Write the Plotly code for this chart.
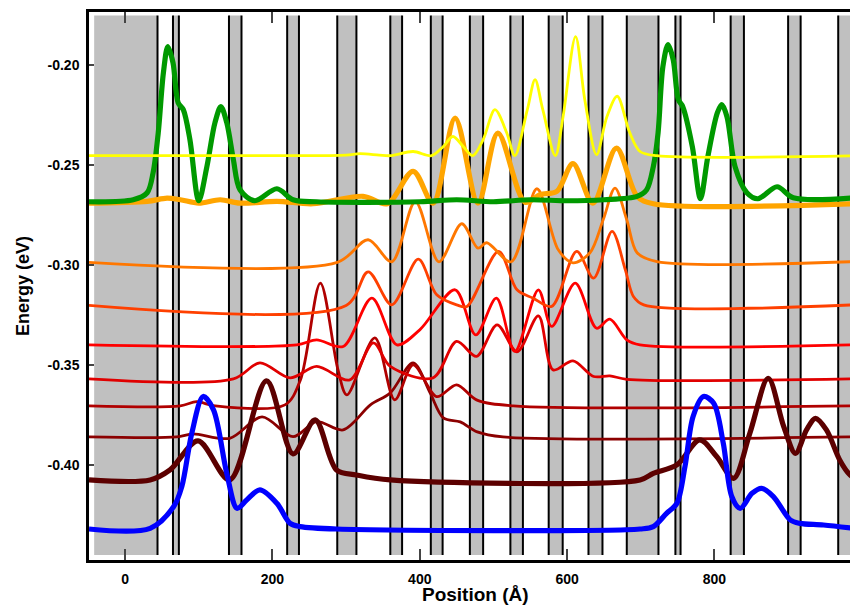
import plotly.graph_objects as go

# ---- structure (Å): barrier regions (gray) bounded by interface lines ----
barrier_start = [-42, 65, 141, 220, 288, 360, 415, 468, 523, 575, 629, 681, 747, 822, 900, 968]
barrier_end   = [44, 73, 158, 236, 314, 376, 431, 486, 540, 594, 648, 724, 754, 840, 917, 1000]
band_top, band_bottom = -0.1755, -0.445

# ---- wavefunction curves (position Å, energy eV) ----
green_x = [-49, 11, 30, 38, 45, 52, 58, 65, 72, 79, 88, 100, 111, 122, 130, 138, 147, 156, 176, 206, 228, 260,
           400, 450, 500, 550, 600, 650, 695, 708, 717, 723.5, 730, 737, 744, 751, 757, 770, 781, 791, 804, 810,
           817, 828, 844, 859, 885, 907, 990]
green_y = [-0.2685, -0.2675, -0.264, -0.254, -0.234, -0.204, -0.191, -0.199, -0.219, -0.2225, -0.2375, -0.268,
           -0.251, -0.229, -0.221, -0.229, -0.2475, -0.2625, -0.268, -0.262, -0.2675, -0.2685,
           -0.2685, -0.2675, -0.2685, -0.2675, -0.268, -0.2675, -0.2658, -0.2625, -0.251, -0.234, -0.201, -0.190,
           -0.1975, -0.2175, -0.221, -0.241, -0.267, -0.246, -0.224, -0.22, -0.226, -0.251, -0.264, -0.267,
           -0.261, -0.2665, -0.2665]

yellow_x = [-49, 210, 300, 319, 345, 360, 391, 416, 432, 445, 459, 472, 486, 502, 518, 529, 546, 556.5, 567,
            584, 594.5, 611.5, 624, 640, 654, 668, 685, 699, 722, 990]
yellow_y = [-0.2455, -0.2455, -0.2452, -0.2445, -0.2452, -0.2455, -0.2434, -0.2455, -0.2409, -0.2359, -0.2409,
            -0.2455, -0.2375, -0.2225, -0.234, -0.2455, -0.2225, -0.2075, -0.2225, -0.2455, -0.226, -0.186,
            -0.2175, -0.245, -0.226, -0.2158, -0.234, -0.2434, -0.2455, -0.2455]

orange_x = [-49, 30, 57, 75, 100, 129, 156, 206, 255, 323, 356, 391, 418, 448, 479, 506, 543, 563, 586, 608,
            635, 667, 695, 717, 990]
orange_y = [-0.2692, -0.2683, -0.2667, -0.2675, -0.2692, -0.2675, -0.2692, -0.2683, -0.2695, -0.2658, -0.2695,
            -0.2533, -0.2692, -0.2267, -0.2692, -0.2342, -0.2688, -0.265, -0.2633, -0.2495, -0.2692, -0.2417,
            -0.2658, -0.2695, -0.2695]

dkorange_x = [-49, 288, 330, 362, 394, 426, 457, 479, 491, 524, 559, 588, 608, 631, 649, 665, 681, 695, 722, 990]
dkorange_y = [-0.2988, -0.2988, -0.2875, -0.2985, -0.2684, -0.2985, -0.2795, -0.2917, -0.289, -0.2985, -0.262,
              -0.2925, -0.299, -0.294, -0.2775, -0.2617, -0.2775, -0.294, -0.2984, -0.2984]

orred_x = [-49, 300, 330, 362, 398, 423, 450, 464, 507, 532, 554, 579, 613, 636, 661, 679, 690, 704, 990]
orred_y = [-0.3203, -0.3203, -0.3035, -0.32, -0.2972, -0.315, -0.32, -0.3208, -0.2933, -0.3125, -0.3167,
           -0.3208, -0.2933, -0.3067, -0.2833, -0.3025, -0.3158, -0.32, -0.32]

red1_x = [-49, 233, 260, 296, 335, 369, 400, 448, 476, 504, 529, 561, 579, 611, 640, 658, 681, 699, 990]
red1_y = [-0.34, -0.34, -0.3375, -0.3408, -0.3167, -0.34, -0.3325, -0.3125, -0.335, -0.3167, -0.3433, -0.3125,
          -0.3308, -0.3092, -0.3317, -0.3272, -0.3375, -0.34, -0.34]

red2_x = [-49, 147, 183, 224, 260, 305, 337, 360, 418, 450, 477, 505, 532, 561, 581, 608, 636, 658, 681, 990]
red2_y = [-0.357, -0.357, -0.349, -0.3565, -0.3508, -0.3575, -0.339, -0.3508, -0.3565, -0.3383, -0.3458, -0.33,
          -0.3435, -0.3255, -0.3525, -0.348, -0.3558, -0.3555, -0.3572, -0.357]

red3_x = [-49, 75, 97, 122, 217, 238, 265, 289, 301, 339, 366, 391, 423, 450, 477, 527, 990]
red3_y = [-0.3705, -0.3705, -0.3684, -0.3705, -0.37, -0.3575, -0.3092, -0.3525, -0.365, -0.3365, -0.3675, -0.35,
          -0.3659, -0.36, -0.3675, -0.3705, -0.3705]

red4_x = [-49, 70, 92, 142, 186, 228, 260, 296, 333, 360, 391, 414, 432, 455, 478, 513, 990]
red4_y = [-0.386, -0.386, -0.3845, -0.3867, -0.376, -0.3859, -0.3784, -0.3825, -0.37, -0.364, -0.349, -0.364,
          -0.3765, -0.3785, -0.3835, -0.386, -0.386]

red5_x = [-49, 34, 61, 99, 142, 192, 228, 258, 287, 314, 360, 699, 717, 749, 780, 803, 826, 848, 873, 894,
          910, 925, 937, 952, 970, 984, 995]
red5_y = [-0.4075, -0.4075, -0.4025, -0.388, -0.4075, -0.358, -0.3945, -0.3775, -0.4025, -0.405, -0.4075,
          -0.4075, -0.4042, -0.40, -0.3875, -0.3958, -0.4067, -0.3842, -0.3567, -0.3808, -0.3942, -0.3825,
          -0.3767, -0.3825, -0.3975, -0.405, -0.4075]

blue_x = [-49, 34, 66, 77, 90.5, 106, 120, 138, 152, 165, 183, 206, 224, 237.5, 287, 699, 717, 735, 749, 760,
          771, 785, 799, 812, 823.5, 835, 851, 864, 880, 903, 916, 948, 995]
blue_y = [-0.432, -0.4317, -0.4208, -0.4108, -0.3842, -0.3658, -0.3725, -0.4042, -0.4217, -0.4175, -0.4125,
          -0.4192, -0.4292, -0.4308, -0.432, -0.432, -0.4308, -0.4242, -0.4192, -0.4008, -0.3758, -0.3658,
          -0.3692, -0.3892, -0.4158, -0.4217, -0.4142, -0.4117, -0.4158, -0.4275, -0.4292, -0.43, -0.432]

x_ticks = [0, 200, 400, 600, 800]
y_ticks = [-0.40, -0.35, -0.30, -0.25, -0.20]
y_tick_labels = ["-0.40", "-0.35", "-0.30", "-0.25", "-0.20"]

curves = [
    (red4_x, red4_y, "#8B0000", 2.8),
    (red3_x, red3_y, "#B00000", 2.8),
    (red2_x, red2_y, "#E00000", 2.8),
    (red1_x, red1_y, "#FF0000", 2.8),
    (orred_x, orred_y, "#FF4000", 2.8),
    (dkorange_x, dkorange_y, "#FF7700", 2.8),
    (red5_x, red5_y, "#5C0000", 5.2),
    (blue_x, blue_y, "#0000FF", 5.2),
    (orange_x, orange_y, "#FFA500", 5.2),
    (green_x, green_y, "#009900", 5.2),
    (yellow_x, yellow_y, "#FFFF00", 2.8),
]

fig = go.Figure()
for xs, ys, col, w in curves:
    fig.add_trace(go.Scatter(x=xs, y=ys, mode="lines",
                             line=dict(color=col, width=w, shape="spline", smoothing=0.9),
                             showlegend=False, hoverinfo="skip"))

shapes = []
for s, e in zip(barrier_start, barrier_end):
    shapes.append(dict(type="rect", xref="x", yref="y", x0=s, x1=e, y0=band_bottom, y1=band_top,
                       fillcolor="#C0C0C0", line=dict(width=0), layer="below"))
edges = sorted(set(barrier_start[1:] + barrier_end[:-1]))
for b in edges:
    shapes.append(dict(type="line", xref="x", yref="y", x0=b, x1=b, y0=band_bottom, y1=band_top,
                       line=dict(color="black", width=2), layer="below"))

font_fam = "Liberation Sans, Arial, sans-serif"
fig.update_layout(
    width=850, height=606,
    margin=dict(l=89, r=0, t=12, b=46, autoexpand=False),
    paper_bgcolor="white", plot_bgcolor="white",
    shapes=shapes,
    font=dict(family=font_fam, color="black"),
    xaxis=dict(range=[-49, 984], tickvals=x_ticks, ticks="inside", ticklen=11, tickwidth=2,
               showline=True, linewidth=2.5, linecolor="black", mirror="ticks",
               showgrid=False, zeroline=False, automargin=False, ticklabelstandoff=4,
               tickfont=dict(size=14, family=font_fam, weight="bold")),
    yaxis=dict(range=[-0.4475, -0.1737], tickvals=y_ticks, ticktext=y_tick_labels, ticks="inside",
               ticklen=5, tickwidth=2, showline=True, linewidth=2.5, linecolor="black",
               showgrid=False, zeroline=False, ticklabelstandoff=4, automargin=False,
               title=dict(text="Energy (eV)", standoff=14, font=dict(size=18, family=font_fam, weight="bold")),
               tickfont=dict(size=14, family=font_fam, weight="bold")),
    annotations=[dict(text="Position (Å)", xref="paper", yref="paper", x=0.5085, y=0, yshift=-34,
                      xanchor="center", yanchor="middle", showarrow=False,
                      font=dict(size=19, family=font_fam, weight="bold"))],
)

fig.write_html("out.html", config={"displayModeBar": False},
               post_script="document.body.style.margin='0px';document.body.style.overflow='hidden';")
